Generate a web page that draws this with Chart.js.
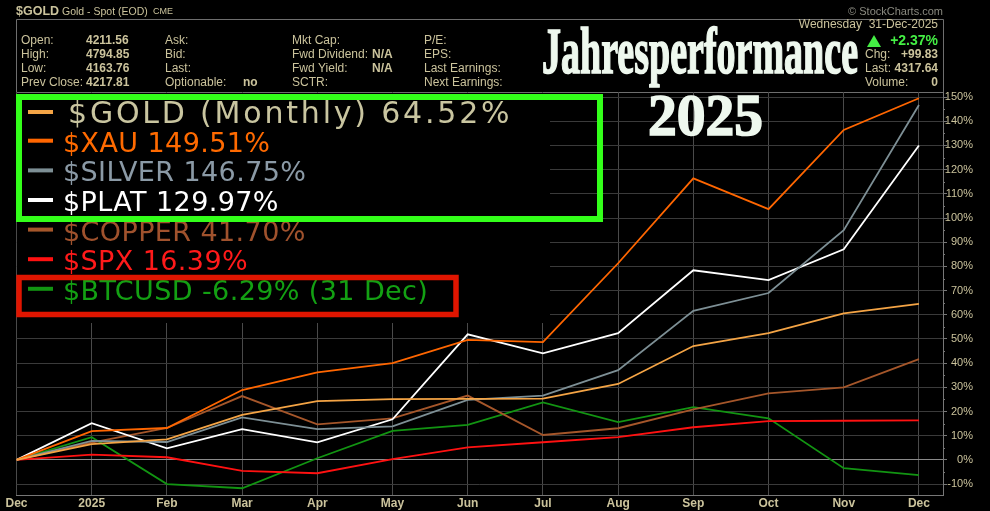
<!DOCTYPE html>
<html lang="de">
<head>
    <meta charset="UTF-8">
    <title>Jahresperformance 2025</title>
    <script src="https://cdn.jsdelivr.net/npm/chart.js"></script>
    <style>
        body { margin: 0; background: #000; }
        canvas { display: block; }
    </style>
</head>
<body>
<canvas id="perfChart" width="990" height="511"></canvas>

<script type="text/javascript">
    // month labels (first point = Dec 2024)
    const monthLabels = ['Dec', '2025', 'Feb', 'Mar', 'Apr', 'May', 'Jun', 'Jul', 'Aug', 'Sep', 'Oct', 'Nov', 'Dec'];
    const yTicks = [-10, 0, 10, 20, 30, 40, 50, 60, 70, 80, 90, 100, 110, 120, 130, 140, 150];

    // performance in % since Dec 2024
    const gold   = [0, 6.5, 8.5, 18.6, 24.3, 25.1, 25.2, 25.3, 31.4, 47.1, 52.4, 60.6, 64.52];
    const xau    = [0, 11.9, 13.2, 28.9, 36.2, 40.0, 49.6, 48.7, 81.3, 116.4, 103.7, 136.4, 149.51];
    const silver = [0, 7.9, 7.4, 17.6, 12.7, 13.9, 24.8, 26.6, 37.1, 61.6, 69.0, 95.0, 146.75];
    const plat   = [0, 15.2, 4.8, 12.7, 7.3, 16.8, 51.9, 44.1, 52.4, 78.4, 74.3, 87.1, 129.97];
    const copper = [0, 7.2, 13.2, 26.4, 14.7, 17.2, 26.6, 10.3, 13.1, 20.9, 27.5, 30.0, 41.70];
    const spx    = [0, 2.2, 1.1, -4.5, -5.5, 0.3, 5.2, 7.3, 9.4, 13.5, 16.0, 16.2, 16.39];
    const btc    = [0, 9.4, -10.0, -11.7, 0.7, 12.0, 14.5, 23.8, 15.6, 21.8, 17.2, -3.4, -6.29];

    const seriesNames = ['$GOLD (Monthly)', '$XAU', '$SILVER', '$PLAT', '$COPPER', '$SPX', '$BTCUSD'];
    const legendLabels = ['$GOLD (Monthly) 64.52%', '$XAU 149.51%', '$SILVER 146.75%', '$PLAT 129.97%',
        '$COPPER 41.70%', '$SPX 16.39%', '$BTCUSD -6.29% (31 Dec)'];
    const seriesData = [gold, xau, silver, plat, copper, spx, btc];
    const lineColors = ['#f4a445', '#ff6600', '#7d8f95', '#ffffff', '#a5562a', '#ff1111', '#129412'];
    const textColors = ['#c9c5a0', '#ff6a00', '#8b9aa6', '#ffffff', '#a0522d', '#ff1a1a', '#13a013'];

    const tan = '#cbc39c';
    const FONT = '"Liberation Sans", Arial, sans-serif';

    // header, legend and title are drawn on the canvas too
    const decorations = {
        id: 'decorations',
        beforeDraw(chart) {
            const c = chart.ctx;
            c.save();
            c.fillStyle = '#000';
            c.fillRect(0, 0, chart.width, chart.height);

            // header frame
            c.strokeStyle = '#6e6e6e';
            c.lineWidth = 1;
            c.beginPath();
            c.moveTo(16.5, 92.5); c.lineTo(16.5, 19.5); c.lineTo(943.5, 19.5); c.lineTo(943.5, 92.5);
            c.moveTo(16.5, 92.5); c.lineTo(943.5, 92.5);
            c.stroke();

            c.textBaseline = 'middle';
            c.fillStyle = tan;
            c.font = 'bold 12.5px ' + FONT;
            c.fillText('$GOLD', 16, 12);
            c.font = '10.5px ' + FONT;
            c.fillText('Gold - Spot (EOD)', 62, 12);
            c.font = '9px ' + FONT;
            c.fillText('CME', 153, 12);

            c.fillStyle = '#8a8a80';
            c.font = '11px ' + FONT;
            c.textAlign = 'right';
            c.fillText('\u00A9 StockCharts.com', 943, 12);
            c.textAlign = 'left';

            const rows = [41, 55, 69, 82.5];
            const cells = [
                [21, 0, 'Open:', false], [86, 0, '4211.56', true],
                [21, 1, 'High:', false], [86, 1, '4794.85', true],
                [21, 2, 'Low:', false], [86, 2, '4163.76', true],
                [21, 3, 'Prev Close:', false], [86, 3, '4217.81', true],
                [165, 0, 'Ask:', false], [165, 1, 'Bid:', false], [165, 2, 'Last:', false],
                [165, 3, 'Optionable:', false], [243, 3, 'no', true],
                [292, 0, 'Mkt Cap:', false], [292, 1, 'Fwd Dividend:', false], [372, 1, 'N/A', true],
                [292, 2, 'Fwd Yield:', false], [372, 2, 'N/A', true], [292, 3, 'SCTR:', false],
                [424, 0, 'P/E:', false], [424, 1, 'EPS:', false],
                [424, 2, 'Last Earnings:', false], [424, 3, 'Next Earnings:', false],
                [865, 1, 'Chg:', false], [865, 2, 'Last:', false], [865, 3, 'Volume:', false]
            ];
            c.fillStyle = tan;
            cells.forEach(([x, r, t, b]) => {
                c.font = (b ? 'bold ' : '') + '12px ' + FONT;
                c.fillText(t, x, rows[r]);
            });
            c.textAlign = 'right';
            c.font = '12px ' + FONT;
            c.fillText('Wednesday  31-Dec-2025', 938, 25);
            c.font = 'bold 12px ' + FONT;
            c.fillText('+99.83', 938, rows[1]);
            c.fillText('4317.64', 938, rows[2]);
            c.fillText('0', 938, rows[3]);
            c.fillStyle = '#44ee44';
            c.font = 'bold 14px ' + FONT;
            c.fillText('+2.37%', 938, 41);
            c.beginPath();
            c.moveTo(867, 47); c.lineTo(874, 35); c.lineTo(881, 47); c.closePath();
            c.fill();
            c.restore();
        },
        beforeDatasetsDraw(chart) {
            const c = chart.ctx;
            c.save();
            c.fillStyle = '#000';
            c.fillRect(17, 93, 533, 230);

            const baseY = [123, 151.7, 181.4, 211, 240.6, 270.2, 299.8];
            c.textBaseline = 'alphabetic';
            legendLabels.forEach((t, i) => {
                c.fillStyle = lineColors[i];
                c.fillRect(28, baseY[i] - 13, 25, 4);
                c.fillStyle = textColors[i];
                if (i === 0) {
                    c.font = '30px "DejaVu Sans"';
                    c.letterSpacing = '2.8px';
                    c.fillText(t, 68, baseY[i]);
                } else {
                    c.font = '27px "DejaVu Sans"';
                    c.letterSpacing = '0.4px';
                    c.fillText(t, 63, baseY[i]);
                }
            });
            c.letterSpacing = '0px';

            c.lineWidth = 6;
            c.strokeStyle = '#33ff1a';
            c.strokeRect(19, 97, 581, 122);
            c.lineWidth = 5.5;
            c.strokeStyle = '#e01500';
            c.strokeRect(19, 277.5, 437, 37);
            c.restore();
        },
        afterDraw(chart) {
            const c = chart.ctx;
            c.save();

            // minor ticks on the right axis every 5 %
            const y = chart.scales.y;
            const right = chart.chartArea.right;
            c.strokeStyle = '#777';
            c.lineWidth = 1;
            c.beginPath();
            yTicks.forEach(v => {
                const py = Math.round(y.getPixelForValue(v + 5)) + 0.5;
                if (v + 5 < y.max) { c.moveTo(right, py); c.lineTo(right + 2, py); }
            });
            c.stroke();

            c.fillStyle = '#eef8ee';
            c.strokeStyle = '#eef8ee';
            c.lineWidth = 1.6;
            c.textBaseline = 'alphabetic';
            const fitText = (t, size, x, yy, w) => {
                c.font = 'bold ' + size + 'px "Liberation Serif", serif';
                const sx = w / c.measureText(t).width;
                c.save();
                c.translate(x, yy);
                c.scale(sx, 1);
                c.fillText(t, 0, 0);
                c.strokeText(t, 0, 0);
                c.restore();
            };
            fitText('Jahresperformance', 65, 542, 73, 316);
            fitText('2025', 59, 648, 135, 115);
            c.restore();
        }
    };

    const ctx = document.getElementById('perfChart').getContext('2d');
    const chart = new Chart(ctx, {
        type: 'line',
        data: {
            datasets: seriesData.map((vals, i) => ({
                label: seriesNames[i],
                data: vals.map((v, j) => ({ x: j, y: v })),
                borderColor: lineColors[i],
                borderWidth: 1.8,
                pointRadius: 0,
                tension: 0
            }))
        },
        options: {
            responsive: false,
            animation: false,
            layout: { padding: { left: 16.5, top: 92, right: 17, bottom: 0 } },
            plugins: { legend: { display: false }, tooltip: { enabled: false } },
            scales: {
                x: {
                    type: 'linear',
                    min: 0,
                    max: 12.32,
                    afterBuildTicks: (scale) => { scale.ticks = monthLabels.map((_, i) => ({ value: i })); },
                    afterFit: (scale) => { scale.height = 16; },
                    ticks: {
                        autoSkip: false,
                        maxRotation: 0,
                        padding: 1,
                        color: tan,
                        font: { family: FONT, size: 12, weight: 'bold' },
                        callback: (v) => monthLabels[v]
                    },
                    grid: { color: '#4a4a4a', drawTicks: false },
                    border: { color: '#777' }
                },
                y: {
                    position: 'right',
                    min: -14.5,
                    max: 152.1,
                    afterBuildTicks: (scale) => { scale.ticks = yTicks.map(v => ({ value: v })); },
                    afterFit: (scale) => { scale.width = 30; },
                    ticks: {
                        crossAlign: 'far',
                        padding: 2,
                        color: tan,
                        font: { family: FONT, size: 11 },
                        callback: (v) => v + '%'
                    },
                    grid: {
                        color: (c) => (c.tick && c.tick.value === 0 ? '#8a8a8a' : '#3a3a3a'),
                        tickColor: '#777',
                        tickLength: 4
                    },
                    border: { color: '#777' }
                }
            }
        },
        plugins: [decorations]
    });
</script>
</body>
</html>
